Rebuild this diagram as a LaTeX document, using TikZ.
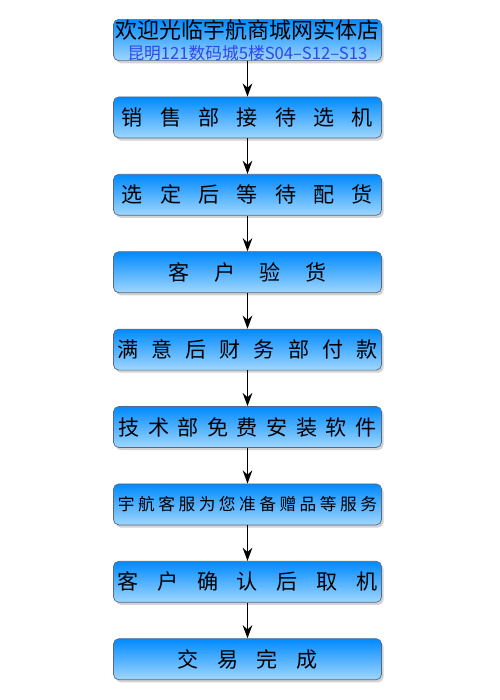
\documentclass[tikz,border=0pt]{standalone}
\usepackage{fontspec}
\setmainfont{Noto Sans CJK SC}
\usetikzlibrary{positioning, shadows, arrows.meta}

\definecolor{boxtop}{RGB}{0,138,255}
\definecolor{boxbot}{RGB}{160,215,255}
\definecolor{boxline}{RGB}{85,105,135}
\definecolor{addrblue}{RGB}{50,70,230}

\newcommand\spreadtext[2]{\def\sgap{\hspace{#1}}\spreadA#2\relax}
\def\spreadA#1{\ifx#1\relax\else #1\expandafter\spreadB\fi}
\def\spreadB#1{\ifx#1\relax\else\sgap #1\expandafter\spreadB\fi}

\tikzset{
    stepbox/.style={draw=boxline, rounded corners=3pt, top color=boxtop, bottom color=boxbot,
        minimum width=5.36cm, minimum height=0.82cm, inner sep=0pt,
        drop shadow={shadow xshift=1.2pt, shadow yshift=-1.5pt, opacity=0.35},
        font=\fontsize{12pt}{14pt}\selectfont},
    flow/.style={->, line width=0.8pt}
}

\begin{document}
\begin{tikzpicture}[>={Stealth[length=7.5pt,width=5.5pt]}]
    \useasboundingbox (0,0) rectangle (10,-14);
    \def\xc{4.95}
    \node[stepbox, align=center] (s1) at (\xc,-0.80) {{\fontsize{12.5pt}{12pt}\selectfont 欢迎光临宇航商城网实体店}\\[-2pt]
        {\color{addrblue}\fontsize{9.5pt}{10pt}\selectfont 昆明121数码城5楼S04–S12–S13}};
    \node[stepbox] (s2) at (\xc,-2.348) {\spreadtext{0.345cm}{销售部接待选机}};
    \node[stepbox] (s3) at (\xc,-3.896) {\spreadtext{0.345cm}{选定后等待配货}};
    \node[stepbox] (s4) at (\xc,-5.444) {\spreadtext{0.49cm}{客户验货}};
    \node[stepbox] (s5) at (\xc,-6.992) {\spreadtext{0.26cm}{满意后财务部付款}};
    \node[stepbox] (s6) at (\xc,-8.540) {\spreadtext{0.17cm}{技术部免费安装软件}};
    \node[stepbox, font=\fontsize{9.5pt}{11pt}\selectfont] (s7) at (\xc,-10.088) {\spreadtext{0.07cm}{宇航客服为您准备赠品等服务}};
    \node[stepbox] (s8) at (\xc,-11.636) {\spreadtext{0.375cm}{客户确认后取机}};
    \node[stepbox] (s9) at (\xc,-13.184) {\spreadtext{0.37cm}{交易完成}};
    \foreach \a/\b in {s1/s2, s2/s3, s3/s4, s4/s5, s5/s6, s6/s7, s7/s8, s8/s9}
    {
    \draw[flow] (\a) -- (\b);
    }
\end{tikzpicture}
\end{document}
